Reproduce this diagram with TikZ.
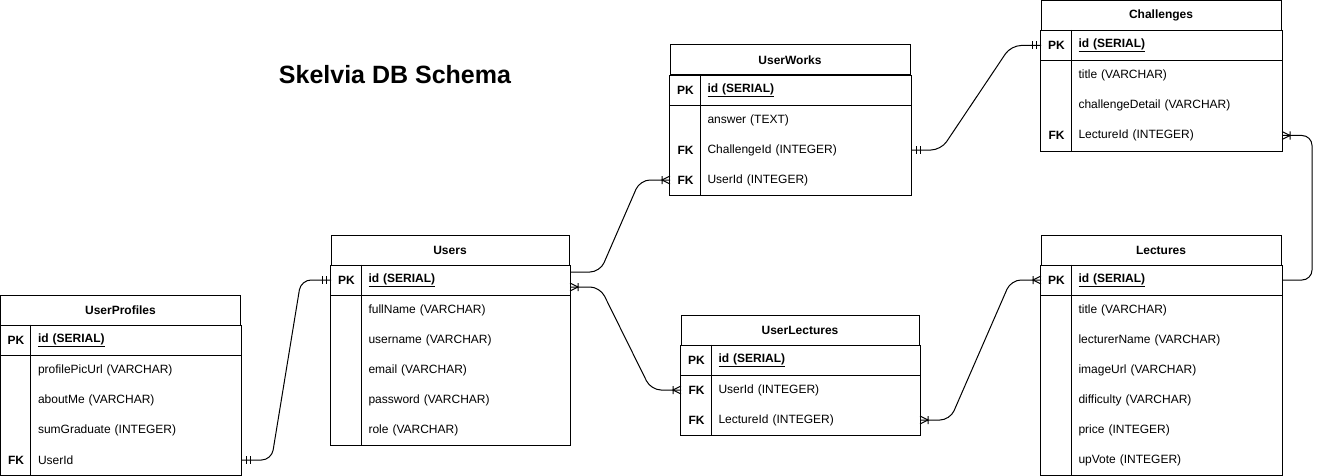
\documentclass[tikz,border=0pt]{standalone}
\usepackage{fontspec}
\setmainfont{Liberation Sans}
\newcommand{\erfont}{\fontsize{12pt}{14pt}\selectfont}

\begin{document}
\begin{tikzpicture}[x=1pt, y=-1pt, line width=1pt, font=\erfont,
  headcell/.style={draw, font=\erfont\bfseries, minimum width=240pt, minimum height=30pt, inner sep=0pt},
  keycell/.style={anchor=west, font=\erfont\bfseries, minimum width=30pt, minimum height=30pt, inner sep=0pt},
  fieldcell/.style={anchor=west, font=\erfont, text width=#1, align=left, minimum height=30pt, inner sep=7pt},
  fieldcell/.default=196pt,
  link/.style={rounded corners=10pt},
  erone/.pic={\draw (-5,-4) -- (-5,4) (-9,-4) -- (-9,4);},
  ermany/.pic={\draw (-8,-4) -- (-8,4) (0,-4) -- (-8,0) -- (0,4);}]

\useasboundingbox (0,0) rectangle (1319,476);

\node[anchor=base, font=\fontsize{25pt}{30pt}\selectfont\bfseries] (title) at (395,84) {Skelvia DB Schema};

% UserProfiles
\node[headcell] (p0) at (120.5,310) {UserProfiles};
\node[keycell] (pk1) at (0.5,340) {PK};
\node[fieldcell] (pf1) at (30.5,340) {\underline{\bfseries id (SERIAL)}};
\node[fieldcell] (pf2) at (30.5,370) {profilePicUrl (VARCHAR)};
\node[fieldcell] (pf3) at (30.5,400) {aboutMe (VARCHAR)};
\node[fieldcell] (pf4) at (30.5,430) {sumGraduate (INTEGER)};
\node[keycell] (pk5) at (0.5,460) {FK};
\node[fieldcell] (pf5) at (30.5,460) {UserId};

\draw (p0.south west) rectangle (pf5.south east);
\draw (pk1.south west) -- (pf1.south east);
\draw (pf1.north west) -- (pf5.south west);

% Users
\node[headcell, minimum width=238pt] (u0) at (450,250) {Users};
\node[keycell] (uk1) at (331,280) {PK};
\node[fieldcell=194pt] (uf1) at (361,280) {\underline{\bfseries id (SERIAL)}};
\node[fieldcell=194pt] (uf2) at (361,310) {fullName (VARCHAR)};
\node[fieldcell=194pt] (uf3) at (361,340) {username (VARCHAR)};
\node[fieldcell=194pt] (uf4) at (361,370) {email (VARCHAR)};
\node[fieldcell=194pt] (uf5) at (361,400) {password (VARCHAR)};
\node[fieldcell=194pt] (uf6) at (361,430) {role (VARCHAR)};

\draw (u0.south west) rectangle (uf6.south east);
\draw (uk1.south west) -- (uf1.south east);
\draw (uf1.north west) -- (uf6.south west);

% UserWorks
\node[headcell] (w0) at (790,60) {UserWorks};
\node[keycell] (wk1) at (670,90) {PK};
\node[fieldcell] (wf1) at (700,90) {\underline{\bfseries id (SERIAL)}};
\node[fieldcell] (wf2) at (700,120) {answer (TEXT)};
\node[keycell] (wk3) at (670,150) {FK};
\node[fieldcell] (wf3) at (700,150) {ChallengeId (INTEGER)};
\node[keycell] (wk4) at (670,180) {FK};
\node[fieldcell] (wf4) at (700,180) {UserId (INTEGER)};

\draw (w0.south west) rectangle (wf4.south east);
\draw (wk1.south west) -- (wf1.south east);
\draw (wf1.north west) -- (wf4.south west);

% UserLectures
\node[headcell, minimum width=238pt] (l0) at (800,330) {UserLectures};
\node[keycell] (lk1) at (681,360) {PK};
\node[fieldcell=194pt] (lf1) at (711,360) {\underline{\bfseries id (SERIAL)}};
\node[keycell] (lk2) at (681,390) {FK};
\node[fieldcell=194pt] (lf2) at (711,390) {UserId (INTEGER)};
\node[keycell] (lk3) at (681,420) {FK};
\node[fieldcell=194pt] (lf3) at (711,420) {LectureId (INTEGER)};

\draw (l0.south west) rectangle (lf3.south east);
\draw (lk1.south west) -- (lf1.south east);
\draw (lf1.north west) -- (lf3.south west);

% Challenges
\node[headcell] (c0) at (1161,15.5) {Challenges};
\node[keycell] (ck1) at (1041,45.5) {PK};
\node[fieldcell] (cf1) at (1071,45.5) {\underline{\bfseries id (SERIAL)}};
\node[fieldcell] (cf2) at (1071,75.5) {title (VARCHAR)};
\node[fieldcell] (cf3) at (1071,105.5) {challengeDetail (VARCHAR)};
\node[keycell] (ck4) at (1041,135.5) {FK};
\node[fieldcell] (cf4) at (1071,135.5) {LectureId (INTEGER)};

\draw (c0.south west) rectangle (cf4.south east);
\draw (ck1.south west) -- (cf1.south east);
\draw (cf1.north west) -- (cf4.south west);

% Lectures
\node[headcell] (e0) at (1161,250) {Lectures};
\node[keycell] (ek1) at (1041,280) {PK};
\node[fieldcell] (ef1) at (1071,280) {\underline{\bfseries id (SERIAL)}};
\node[fieldcell] (ef2) at (1071,310) {title (VARCHAR)};
\node[fieldcell] (ef3) at (1071,340) {lecturerName (VARCHAR)};
\node[fieldcell] (ef4) at (1071,370) {imageUrl (VARCHAR)};
\node[fieldcell] (ef5) at (1071,400) {difficulty (VARCHAR)};
\node[fieldcell] (ef6) at (1071,430) {price (INTEGER)};
\node[fieldcell] (ef7) at (1071,460) {upVote (INTEGER)};

\draw (e0.south west) rectangle (ef7.south east);
\draw (ek1.south west) -- (ef1.south east);
\draw (ef1.north west) -- (ef7.south west);

% relations
\draw[link] (pf5.east) -- ++(30,0) -- ([xshift=-30pt]uk1.west) -- (uk1.west);
\pic[xscale=-1] at (pf5.east) {erone};
\pic at (uk1.west) {erone};

\draw[link] ([yshift=8pt]uf1.east) -- ++(30,0) -- ([xshift=-30pt]wk4.west) -- (wk4.west);
\pic at (wk4.west) {ermany};

\draw[link] ([yshift=-7pt]uf1.east) -- ++(30,0) -- ([xshift=-30pt]lk2.west) -- (lk2.west);
\pic[xscale=-1] at ([yshift=-7pt]uf1.east) {ermany};
\pic at (lk2.west) {ermany};

\draw[link] (wf3.east) -- ++(30,0) -- ([xshift=-30pt]ck1.west) -- (ck1.west);
\pic[xscale=-1] at (wf3.east) {erone};
\pic at (ck1.west) {erone};

\draw[link] (cf4.east) -- ++(30,0) |- (ef1.east);
\pic[xscale=-1] at (cf4.east) {ermany};

\draw[link] (lf3.east) -- ++(30,0) -- ([xshift=-30pt]ek1.west) -- (ek1.west);
\pic[xscale=-1] at (lf3.east) {ermany};
\pic at (ek1.west) {ermany};

\end{tikzpicture}
\end{document}
